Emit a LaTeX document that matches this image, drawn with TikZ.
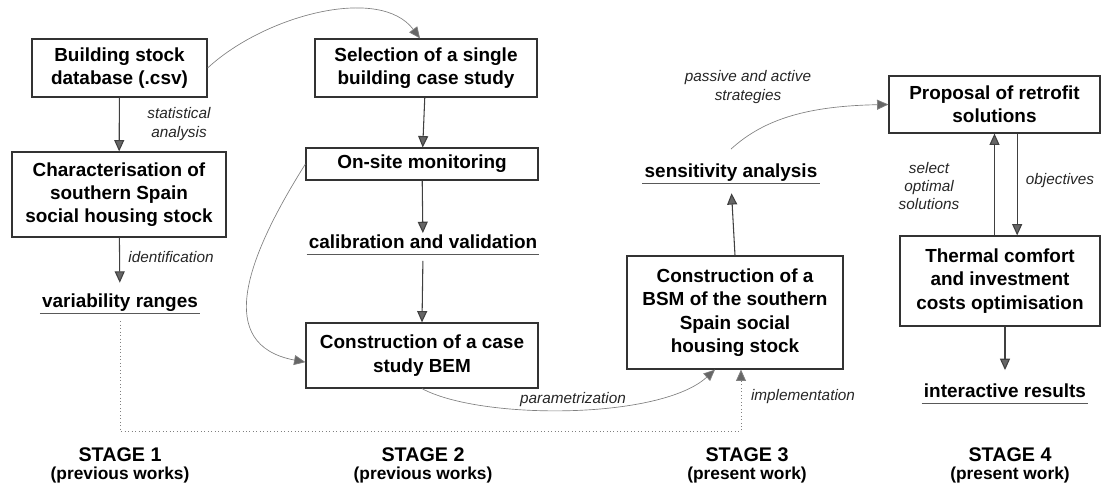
\documentclass[tikz,border=0pt]{standalone}
\usepackage{fontspec}
\setmainfont{Liberation Sans}
\usetikzlibrary{arrows.meta}
\newcommand\boxfont{\fontsize{14.2}{17.5}\selectfont\bfseries}
\newcommand\lblfont{\fontsize{11.5}{13.8}\selectfont\itshape}
\newcommand\stagefont{\fontsize{14.8}{17}\selectfont\bfseries}
\newcommand\subfont{\fontsize{13}{15}\selectfont\bfseries}
\tikzset{
  box/.style={draw=black!80, line width=0.9pt, align=center, font=\boxfont, inner sep=0pt},
  ul/.style={font=\boxfont, text height=10pt, text depth=3.5pt, inner ysep=1pt, inner xsep=1.5pt, anchor=base},
  uline/.style={draw=black!65, line width=0.9pt},
  lbl/.style={font=\lblfont, align=center, text=black!85},
  tip/.style={-{Triangle[length=8.5pt,width=7.5pt,fill=black!60]}},
  conn/.style={draw=black!75, line width=0.8pt, tip},
  soft/.style={draw=black!50, line width=0.5pt, tip},
  dotline/.style={draw=black!50, line width=0.6pt, dotted, tip},
  stage/.style={font=\stagefont},
  stagesub/.style={font=\subfont},
}
\begin{document}
\begin{tikzpicture}[x=0.75pt,y=-0.75pt]
\useasboundingbox (0,0) rectangle (1101,485);

% boxes
\node[box, minimum width=131.25pt, minimum height=43.5pt] (b1) at (119.5,68) {Building stock\\database (.csv)};
\node[box, minimum width=160.5pt, minimum height=63.75pt] (b2) at (119,194.5) {Characterisation of\\southern Spain\\social housing stock};
\node[box, minimum width=166.5pt, minimum height=43.5pt] (sel) at (426,68) {Selection of a single\\building case study};
\node[box, minimum width=174pt, minimum height=24pt] (ons) at (422,164) {On-site monitoring};
\node[box, minimum width=174pt, minimum height=48.75pt] (bem) at (422,355.5) {Construction of a case\\study BEM};
\node[box, minimum width=162pt, minimum height=84.75pt] (bsm) at (735,312.5) {Construction of a\\BSM of the southern\\Spain social\\housing stock};
\node[box, minimum width=158.25pt, minimum height=42.75pt] (prop) at (994.5,104.5) {Proposal of retrofit\\solutions};
\node[box, minimum width=150pt, minimum height=67.5pt] (therm) at (1000,281) {Thermal comfort\\and investment\\costs optimisation};

% underlined results
\node[ul] (vr) at (120,307) {variability ranges};
\node[ul] (cal) at (423,248) {calibration and validation};
\node[ul] (sens) at (731,177) {sensitivity analysis};
\node[ul] (inter) at (1005,397) {interactive results};
\draw[uline] (vr.south west) -- (vr.south east);
\draw[uline] (cal.south west) -- (cal.south east);
\draw[uline] (sens.south west) -- (sens.south east);
\draw[uline] (inter.south west) -- (inter.south east);

% straight connectors
\draw[conn] (b1) -- (b2);
\draw[conn, shorten >=7pt] (b2) -- (vr);
\draw[conn] (sel) -- (ons);
\draw[conn] (ons) -- (cal);
\draw[conn, shorten <=5pt] (cal.south) -- (bem.north);
\draw[conn, shorten >=7.5pt] (bsm.north) -- (sens.south);
\draw[conn] (therm.north -| prop.south) -- (prop.south);
\draw[conn] ([xshift=17pt]prop.south) -- ([xshift=17pt]prop.south |- therm.north);
\draw[conn, shorten >=9pt] (therm.south -| inter.north) -- (inter.north);

% curved connectors
\draw[soft] (b1.east) .. controls (265,15) and (380,-15) .. ([xshift=-4.5pt]sel.north);
\draw[soft] (ons.west) .. controls (245,260) and (215,345) .. ([yshift=-5pt]bem.west);
\draw[soft] (bem.south) .. controls (480,420) and (660,420) .. ([xshift=-15pt]bsm.south);
\draw[soft] ([yshift=9.75pt]sens.north) .. controls (765,118) and (810,106) .. (prop.west);

% dotted connector
\coordinate (dc) at (741,431);
\draw[dotline, shorten <=6pt] (vr.south) |- (dc) -- ([xshift=4.5pt]bsm.south);

% labels
\node[lbl] (l1) at (179,124) {statistical\\analysis};
\node[lbl] (l2) at (171,257) {identification};
\node[lbl] (l3) at (748,87) {passive and active\\strategies};
\node[lbl] (l4) at (929,186) {select\\optimal\\solutions};
\node[lbl] (l5) at (1060,181) {objectives};
\node[lbl] (l6) at (573,400) {parametrization};
\node[lbl] (l7) at (803,397) {implementation};

% stages
\node[stage] (s1) at (120,455) {STAGE 1};
\node[stagesub] (p1) at (120,475) {(previous works)};
\node[stage] (s2) at (423,455) {STAGE 2};
\node[stagesub] (p2) at (423,475) {(previous works)};
\node[stage] (s3) at (747,455) {STAGE 3};
\node[stagesub] (p3) at (747,475) {(present work)};
\node[stage] (s4) at (1010,455) {STAGE 4};
\node[stagesub] (p4) at (1010,475) {(present work)};
\end{tikzpicture}
\end{document}
